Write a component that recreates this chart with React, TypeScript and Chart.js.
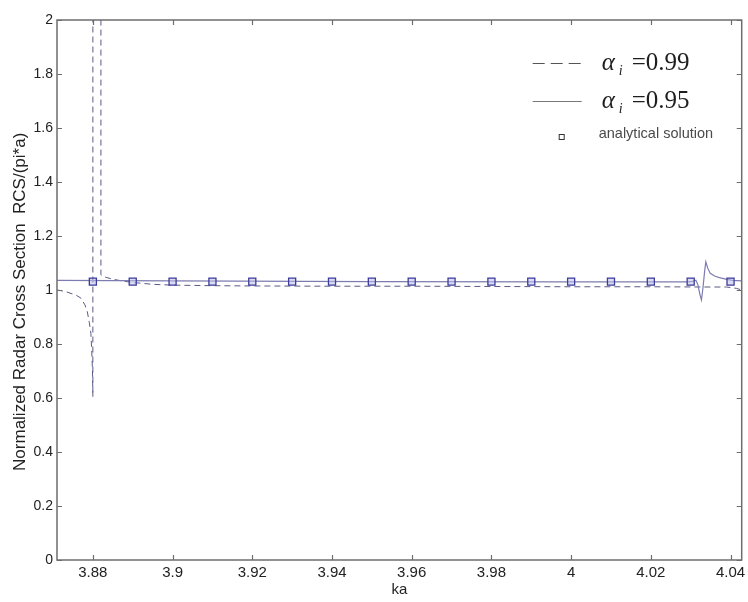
import React, { useEffect, useRef } from "react";
import { Chart, registerables } from "chart.js";

Chart.register(...registerables);

// ---- data ----
const ka099 = [3.871, 3.873, 3.8759, 3.877, 3.878, 3.8786, 3.8791, 3.8795, 3.8797, 3.8799, 3.88, 3.88002, 3.8820, 3.88202, 3.8825, 3.8835, 3.885, 3.8875, 3.89, 3.895, 3.9, 3.91, 3.92, 3.94, 3.96, 3.98, 4.0, 4.02, 4.035, 4.039, 4.0415, 4.0428];
const rcs099 = [1.0, 0.995, 0.98, 0.97, 0.945, 0.92, 0.88, 0.84, 0.78, 0.7, 0.605, 8, 8, 1.056, 1.051, 1.046, 1.04, 1.033, 1.028, 1.021, 1.018, 1.016, 1.015, 1.014, 1.014, 1.013, 1.012, 1.012, 1.011, 1.011, 1.006, 1.0];

const ka095 = [3.871, 3.9, 3.95, 4.0, 4.029, 4.0305, 4.0313, 4.0318, 4.0323, 4.0327, 4.0331, 4.0335, 4.0338, 4.0343, 4.0349, 4.036, 4.0372, 4.0388, 4.0405, 4.0428];
const rcs095 = [1.036, 1.034, 1.031, 1.03, 1.03, 1.032, 1.036, 1.02, 0.985, 0.963, 1.01, 1.07, 1.104, 1.08, 1.062, 1.052, 1.046, 1.04, 1.036, 1.034];

const kaAnalytic = [3.88, 3.89, 3.9, 3.91, 3.92, 3.93, 3.94, 3.95, 3.96, 3.97, 3.98, 3.99, 4.0, 4.01, 4.02, 4.03, 4.04];
const rcsAnalytic = [1.031, 1.031, 1.031, 1.031, 1.031, 1.031, 1.031, 1.031, 1.031, 1.031, 1.031, 1.031, 1.031, 1.031, 1.031, 1.031, 1.031];

const X_MIN = 3.871;
const X_MAX = 4.0428;
const Y_MIN = 0;
const Y_MAX = 2;
const X_STEP = 0.02;
const Y_STEP = 0.2;

const X_TITLE = "ka";
const Y_TITLE = "Normalized Radar Cross Section  RCS/(pi*a)";
const LEGEND_SYMBOL = "α";
const LEGEND_SUB = "i";
const LEGEND_099 = "=0.99";
const LEGEND_095 = "=0.95";
const LEGEND_ANALYTIC = "analytical solution";

const DASH_COLOR = "#5a5a86";
const SOLID_COLOR = "#7c7cb0";
const SQUARE_COLOR = "#3c3c9a";
const AXIS_COLOR = "#6e6e6e";
const SANS = '"Liberation Sans", Arial, sans-serif';
const SERIF = '"Liberation Serif", "Times New Roman", serif';

const toPoints = (xs: number[], ys: number[]) => xs.map((x, i) => ({ x, y: ys[i] }));

const framePlugin = {
  id: "frameTicks",
  afterDraw(chart: any) {
    const { ctx, chartArea: a, scales } = chart;
    const xs = scales.x;
    const ys = scales.y;
    const len = 5;
    ctx.save();
    ctx.strokeStyle = AXIS_COLOR;
    ctx.lineWidth = 1.2;
    ctx.setLineDash([]);
    ctx.beginPath();
    xs.ticks.forEach((t: any) => {
      const p = Math.round(xs.getPixelForValue(t.value)) + 0.5;
      ctx.moveTo(p, a.bottom);
      ctx.lineTo(p, a.bottom - len);
      ctx.moveTo(p, a.top);
      ctx.lineTo(p, a.top + len);
    });
    ys.ticks.forEach((t: any) => {
      const p = Math.round(ys.getPixelForValue(t.value)) + 0.5;
      ctx.moveTo(a.left, p);
      ctx.lineTo(a.left + len, p);
      ctx.moveTo(a.right, p);
      ctx.lineTo(a.right - len, p);
    });
    ctx.stroke();
    ctx.lineWidth = 1.5;
    ctx.strokeRect(a.left, a.top, a.right - a.left, a.bottom - a.top);
    ctx.restore();
  },
};

const legendPlugin = {
  id: "customLegend",
  afterDraw(chart: any) {
    const { ctx, chartArea: a } = chart;
    const r = a.right;
    ctx.save();
    // sample lines
    ctx.lineWidth = 1;
    ctx.strokeStyle = "#555";
    ctx.setLineDash([12, 6]);
    ctx.beginPath();
    ctx.moveTo(r - 209, 63.5);
    ctx.lineTo(r - 160, 63.5);
    ctx.stroke();
    ctx.setLineDash([]);
    ctx.strokeStyle = "#777";
    ctx.beginPath();
    ctx.moveTo(r - 209, 101.5);
    ctx.lineTo(r - 160, 101.5);
    ctx.stroke();

    const rows = [
      { text: LEGEND_099, base: 70 },
      { text: LEGEND_095, base: 108 },
    ];
    ctx.fillStyle = "#1e1e1e";
    ctx.textBaseline = "alphabetic";
    ctx.textAlign = "left";
    rows.forEach((row) => {
      ctx.font = `italic 25px ${SERIF}`;
      ctx.fillText(LEGEND_SYMBOL, r - 140, row.base);
      ctx.font = `italic 14px ${SERIF}`;
      ctx.fillText(LEGEND_SUB, r - 123, row.base + 5);
      ctx.font = `25px ${SERIF}`;
      ctx.fillText(row.text, r - 110, row.base);
    });

    // analytical square
    ctx.strokeStyle = "#333";
    ctx.lineWidth = 1;
    ctx.strokeRect(r - 182.5, 134.5, 5, 5);
    ctx.fillStyle = "#4a4a4a";
    ctx.font = `14.5px ${SANS}`;
    ctx.fillText(LEGEND_ANALYTIC, r - 143, 138);
    ctx.restore();
  },
};

export default function App() {
  const canvasRef = useRef<HTMLCanvasElement | null>(null);

  useEffect(() => {
    document.body.style.margin = "0";
    const canvas = canvasRef.current;
    if (!canvas) return;
    const chart = new Chart(canvas, {
      type: "scatter",
      data: {
        datasets: [
          {
            label: "alpha_i = 0.99",
            data: toPoints(ka099, rcs099),
            showLine: true,
            borderColor: DASH_COLOR,
            borderWidth: 1,
            borderDash: [6, 4],
            pointRadius: 0,
            tension: 0,
            order: 3,
          },
          {
            label: "alpha_i = 0.95",
            data: toPoints(ka095, rcs095),
            showLine: true,
            borderColor: SOLID_COLOR,
            borderWidth: 1.2,
            pointRadius: 0,
            tension: 0,
            order: 2,
          },
          {
            label: LEGEND_ANALYTIC,
            data: toPoints(kaAnalytic, rcsAnalytic),
            showLine: false,
            pointStyle: "rect",
            pointRadius: 5,
            borderColor: SQUARE_COLOR,
            backgroundColor: "rgba(190,190,235,0.55)",
            borderWidth: 1.3,
            order: 1,
          },
        ],
      },
      options: {
        animation: false,
        responsive: false,
        devicePixelRatio: 1,
        layout: { padding: { top: 20, right: 6, left: 0, bottom: 0 } },
        plugins: {
          legend: { display: false },
          tooltip: { enabled: false },
        },
        scales: {
          x: {
            type: "linear",
            min: X_MIN,
            max: X_MAX,
            grid: { display: false, drawTicks: false },
            border: { display: false },
            ticks: {
              stepSize: X_STEP,
              includeBounds: false,
              padding: 4,
              color: "#222",
              font: { family: SANS, size: 15 },
              maxRotation: 0,
              autoSkip: false,
              callback: (v: any) => String(Number(Number(v).toFixed(2))),
            },
            title: {
              display: true,
              text: X_TITLE,
              color: "#222",
              font: { family: SANS, size: 15 },
              padding: { top: 0, bottom: 3 },
            },
            afterFit: (scale: any) => {
              scale.height = 42;
              scale.paddingLeft = 0;
              scale.paddingRight = 0;
            },
          },
          y: {
            type: "linear",
            min: Y_MIN,
            max: Y_MAX,
            grid: { display: false, drawTicks: false },
            border: { display: false },
            ticks: {
              stepSize: Y_STEP,
              includeBounds: false,
              padding: 4,
              color: "#222",
              font: { family: SANS, size: 14 },
              autoSkip: false,
              callback: (v: any) => String(Number(Number(v).toFixed(1))),
            },
            title: {
              display: true,
              text: Y_TITLE + "     ",
              color: "#222",
              font: { family: SANS, size: 17 },
              padding: { top: 10, bottom: 0 },
            },
            afterFit: (scale: any) => {
              scale.width = 57;
              scale.paddingTop = 0;
              scale.paddingBottom = 0;
            },
          },
        },
      } as any,
      plugins: [framePlugin, legendPlugin],
    });
    return () => chart.destroy();
  }, []);

  return (
    <div style={{ position: "absolute", left: 0, top: 0, width: 748, height: 602, background: "#fff" }}>
      <canvas ref={canvasRef} width={748} height={602} />
    </div>
  );
}
